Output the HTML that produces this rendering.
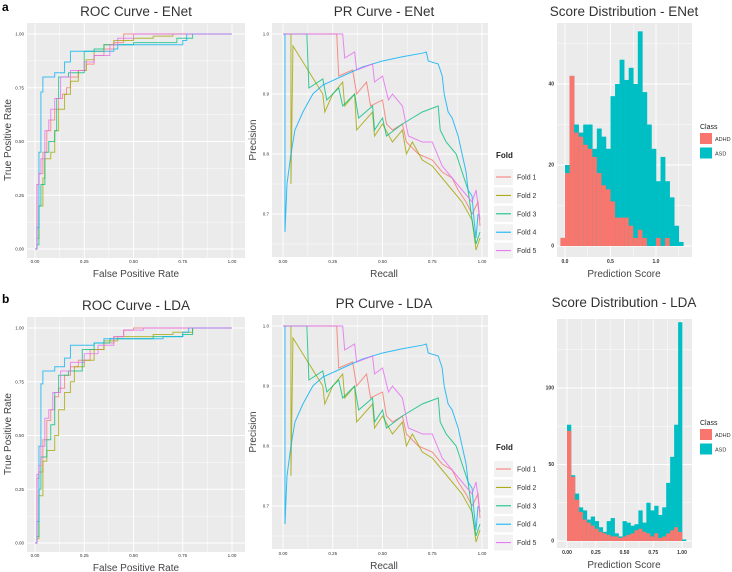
<!DOCTYPE html>
<html><head><meta charset="utf-8"><style>
body{margin:0;background:#fff;}
svg{display:block;font-family:"Liberation Sans",sans-serif;}
</style></head><body>
<svg id="fig" width="732" height="572" viewBox="0 0 732 572"></svg>
<script>
const folds = ["Fold 1","Fold 2","Fold 3","Fold 4","Fold 5"];
const foldColors = ["#F8766D","#A3A500","#00BF7D","#00B0F6","#E76BF3"];
const rocTicks = [0,0.25,0.5,0.75,1];
const rocTickLabels = ["0.00","0.25","0.50","0.75","1.00"];
const prYTicks = [0.7,0.8,0.9,1.0];
const prYTickLabels = ["0.7","0.8","0.9","1.0"];

const rocA1 = [[0,0],[0.01,0.3],[0.02,0.35],[0.04,0.45],[0.06,0.55],[0.08,0.6],[0.1,0.65],[0.12,0.7],[0.14,0.72],[0.16,0.75],[0.18,0.8],[0.22,0.83],[0.26,0.86],[0.3,0.9],[0.35,0.93],[0.4,0.96],[0.45,1],[1,1]];
const rocA2 = [[0,0],[0.01,0.05],[0.02,0.2],[0.04,0.33],[0.05,0.42],[0.08,0.45],[0.1,0.55],[0.12,0.65],[0.15,0.72],[0.18,0.78],[0.22,0.83],[0.26,0.88],[0.3,0.92],[0.35,0.95],[0.4,0.97],[0.5,0.98],[0.6,0.99],[0.7,1],[1,1]];
const rocA3 = [[0,0],[0.01,0.02],[0.02,0.2],[0.03,0.3],[0.05,0.45],[0.07,0.5],[0.1,0.55],[0.11,0.7],[0.12,0.8],[0.17,0.82],[0.24,0.82],[0.25,0.92],[0.3,0.93],[0.35,0.95],[0.5,0.96],[0.7,0.96],[0.72,0.98],[0.8,1],[1,1]];
const rocA4 = [[0,0],[0.01,0.1],[0.02,0.45],[0.03,0.73],[0.04,0.8],[0.1,0.82],[0.15,0.87],[0.18,0.92],[0.4,0.93],[0.42,0.95],[0.65,0.95],[0.75,0.97],[0.77,1],[1,1]];
const rocA5 = [[0,0],[0.01,0.3],[0.02,0.35],[0.03,0.42],[0.05,0.55],[0.07,0.6],[0.08,0.65],[0.1,0.7],[0.13,0.8],[0.18,0.83],[0.25,0.87],[0.3,0.9],[0.38,0.95],[0.42,0.98],[0.5,1],[1,1]];

const prA1 = [[0,1],[0.27,1],[0.28,0.93],[0.35,0.94],[0.37,0.9],[0.42,0.92],[0.44,0.88],[0.5,0.89],[0.52,0.85],[0.55,0.84],[0.6,0.85],[0.62,0.82],[0.68,0.8],[0.75,0.79],[0.8,0.77],[0.85,0.76],[0.88,0.74],[0.92,0.72],[0.95,0.7],[0.98,0.72],[0.99,0.68]];
const prA2 = [[0,1],[0.04,1],[0.04,0.75],[0.05,0.98],[0.2,0.9],[0.21,0.87],[0.25,0.9],[0.3,0.92],[0.31,0.88],[0.36,0.9],[0.37,0.84],[0.45,0.87],[0.46,0.83],[0.5,0.85],[0.55,0.82],[0.6,0.84],[0.62,0.8],[0.65,0.82],[0.7,0.79],[0.75,0.78],[0.8,0.76],[0.85,0.74],[0.9,0.72],[0.95,0.69],[0.97,0.64],[0.99,0.66]];
const prA3 = [[0,1],[0.12,1],[0.13,0.91],[0.2,0.925],[0.22,0.89],[0.28,0.91],[0.3,0.88],[0.36,0.9],[0.38,0.86],[0.45,0.88],[0.46,0.84],[0.5,0.86],[0.52,0.83],[0.6,0.85],[0.7,0.87],[0.78,0.88],[0.79,0.84],[0.82,0.82],[0.87,0.8],[0.9,0.77],[0.93,0.74],[0.95,0.69],[0.97,0.65],[0.99,0.67]];
const prA4 = [[0,1],[0.01,1],[0.01,0.67],[0.02,0.75],[0.04,0.8],[0.06,0.84],[0.1,0.87],[0.15,0.9],[0.2,0.915],[0.3,0.93],[0.4,0.945],[0.5,0.955],[0.6,0.962],[0.7,0.968],[0.72,0.97],[0.73,0.955],[0.78,0.95],[0.8,0.93],[0.81,0.9],[0.83,0.87],[0.85,0.86],[0.88,0.83],[0.9,0.8],[0.92,0.77],[0.93,0.74],[0.95,0.73],[0.96,0.69],[0.97,0.66],[0.98,0.7]];
const prA5 = [[0,1],[0.3,1],[0.31,0.96],[0.36,0.97],[0.37,0.94],[0.45,0.95],[0.46,0.92],[0.5,0.93],[0.53,0.89],[0.55,0.9],[0.6,0.88],[0.63,0.83],[0.7,0.82],[0.75,0.82],[0.8,0.78],[0.85,0.76],[0.9,0.74],[0.95,0.72],[0.97,0.74],[0.99,0.69]];

const rocB1 = [[0,0],[0.01,0.3],[0.02,0.33],[0.04,0.48],[0.06,0.57],[0.08,0.62],[0.1,0.68],[0.12,0.72],[0.15,0.78],[0.18,0.82],[0.22,0.85],[0.28,0.9],[0.35,0.93],[0.4,0.96],[0.45,0.99],[0.5,1],[1,1]];
const rocB2 = [[0,0],[0.01,0.02],[0.02,0.22],[0.04,0.38],[0.06,0.43],[0.1,0.5],[0.12,0.62],[0.15,0.7],[0.18,0.75],[0.2,0.82],[0.25,0.85],[0.3,0.9],[0.35,0.94],[0.42,0.96],[0.6,0.97],[0.7,0.98],[0.8,1],[1,1]];
const rocB3 = [[0,0],[0.01,0.03],[0.02,0.25],[0.03,0.4],[0.06,0.48],[0.08,0.55],[0.1,0.7],[0.12,0.78],[0.17,0.8],[0.22,0.8],[0.24,0.9],[0.3,0.93],[0.38,0.95],[0.6,0.96],[0.75,0.97],[0.8,1],[1,1]];
const rocB4 = [[0,0],[0.01,0.1],[0.02,0.45],[0.03,0.74],[0.04,0.8],[0.1,0.82],[0.15,0.86],[0.18,0.92],[0.3,0.93],[0.35,0.95],[0.65,0.96],[0.75,0.98],[0.78,1],[1,1]];
const rocB5 = [[0,0],[0.01,0.32],[0.02,0.36],[0.03,0.45],[0.05,0.58],[0.07,0.62],[0.09,0.7],[0.13,0.8],[0.18,0.84],[0.25,0.88],[0.32,0.92],[0.4,0.96],[0.45,0.99],[0.55,1],[1,1]];

const prB1 = prA1, prB2 = prA2, prB3 = prA3, prB4 = prA4, prB5 = prA5;

const histEStart = -0.05, histEWidth = 0.05;
const histEAdhd = [2,18,42,28,27,25,24,22,18,15,14,11,7,7,7,5,2,4,2,0,0,2,0,2,0,0,0];
const histETotal = [2,20,42,30,28,30,30,24,29,27,24,37,40,46,41,44,40,53,38,30,24,16,22,16,12,5,1];
const histEYTicks = [0,20,40];
const histEXTicks = [0,0.5,1.0];
const histEXLabels = ["0.0","0.5","1.0"];

const histLStart = 0, histLWidth = 0.0345;
const histLAdhd = [72,42,27,19,14,12,10,8,6,5,4,3,3,2,3,4,5,7,8,6,5,3,5,2,3,5,7,9,6,0];
const histLTotal = [76,43,31,22,20,14,16,13,9,6,13,15,5,3,13,12,10,11,20,12,25,20,23,17,22,38,55,76,143,1];
const histLYTicks = [0,50,100];
const histLXTicks = [0,0.25,0.5,0.75,1];
const histLXLabels = ["0.00","0.25","0.50","0.75","1.00"];

const NS = "http://www.w3.org/2000/svg";
const svg = document.getElementById("fig");
function el(tag, attrs, parent, text){
  const e = document.createElementNS(NS, tag);
  for (const k in attrs) e.setAttribute(k, attrs[k]);
  if (text !== undefined) e.textContent = text;
  (parent||svg).appendChild(e);
  return e;
}

function panelBg(name, x0, y0, x1, y1){
  const r = el("rect",{x:x0,y:y0,width:x1-x0,height:y1-y0,fill:"#EBEBEB"});
  
  
}
function gridV(x, y0, y1, major){
  el("line",{x1:x,x2:x,y1:y0,y2:y1,stroke:"#fff","stroke-width":major?0.9:0.45});
}
function gridH(y, x0, x1, major){
  el("line",{x1:x0,x2:x1,y1:y,y2:y,stroke:"#fff","stroke-width":major?0.9:0.45});
}
function txt(x, y, s, size, opts){
  const a = Object.assign({x:x,y:y,"font-size":size,fill:"#333"}, opts||{});
  return el("text", a, svg, s);
}

function rocPanel(row, yOff, title, curves){
  const X = v => 35 + v*197;
  const Y = v => (249+yOff) - v*215;
  panelBg("roc-plot-area-"+row, 27, 23+yOff, 245, 258+yOff);
  [0.125,0.375,0.625,0.875].forEach(v=>{gridV(X(v),23+yOff,258+yOff,false);gridH(Y(v),27,245,false);});
  rocTicks.forEach((v,i)=>{
    gridV(X(v),23+yOff,258+yOff,true); gridH(Y(v),27,245,true);
    const t1 = txt(X(v), 263+yOff, rocTickLabels[i], 4.5, {"text-anchor":"middle"});
    
    
    const t2 = txt(24, Y(v)+1.5, rocTickLabels[i], 4.5, {"text-anchor":"end"});
    
    
  });
  curves.forEach((pts,fi)=>{
    let d = "M"+X(pts[0][0])+","+Y(pts[0][1]);
    for (let i=1;i<pts.length;i++){ d += " H"+X(pts[i][0])+" V"+Y(pts[i][1]); }
    const p = el("path",{d:d,fill:"none",stroke:foldColors[fi],"stroke-width":1,"stroke-opacity":0.75});
    
    
  });
  const t = txt(136, 16+yOff, title, 13.5, {"text-anchor":"middle"});
  
  
  const xl = txt(136, 277+yOff, "False Positive Rate", 10, {"text-anchor":"middle","fill":"#444"});
  
  
  const yl = txt(0,0,"True Positive Rate",10,{"text-anchor":"middle","fill":"#444",transform:"translate(11,"+(140+yOff)+") rotate(-90)"});
  
  
}

function prPanel(row, yOff, title, curves){
  const X = v => 283 + v*199;
  const Y = v => (34+yOff) + (1-v)*600;
  panelBg("pr-plot-area-"+row, 272, 23+yOff, 488, 257+yOff);
  [0.125,0.375,0.625,0.875].forEach(v=>gridV(X(v),23+yOff,257+yOff,false));
  [0.65,0.75,0.85,0.95].forEach(v=>gridH(Y(v),272,488,false));
  rocTicks.forEach((v,i)=>{
    gridV(X(v),23+yOff,257+yOff,true);
    const t1 = txt(X(v), 263+yOff, rocTickLabels[i], 4.5, {"text-anchor":"middle"});
    
    
  });
  prYTicks.forEach((v,i)=>{
    gridH(Y(v),272,488,true);
    const t2 = txt(269, Y(v)+1.5, prYTickLabels[i], 4.5, {"text-anchor":"end"});
    
    
  });
  curves.forEach((pts,fi)=>{
    const pstr = pts.map(p=>X(p[0])+","+Y(p[1])).join(" ");
    const p = el("polyline",{points:pstr,fill:"none",stroke:foldColors[fi],"stroke-width":1,"stroke-opacity":0.8});
    
    
  });
  const t = txt(384, 16+yOff, title, 13.5, {"text-anchor":"middle"});
  
  
  const xl = txt(384, 277+yOff, "Recall", 10, {"text-anchor":"middle","fill":"#444"});
  
  
  const yl = txt(0,0,"Precision",10,{"text-anchor":"middle","fill":"#444",transform:"translate(256,"+(140+yOff)+") rotate(-90)"});
  
  
  // legend
  const lt = txt(496, 158+yOff, "Fold", 8, {"font-weight":"bold","fill":"#222"});
  
  
  folds.forEach((f,i)=>{
    const cy = 177+yOff + i*18.4;
    el("rect",{x:494,y:cy-8,width:19,height:16,fill:"#F2F2F2"});
    const ln = el("line",{x1:496,x2:511,y1:cy,y2:cy,stroke:foldColors[i],"stroke-width":1});
    
    
    const lb = txt(517, cy+2.5, f, 7, {"fill":"#333"});
    
    
  });
}

function histPanel(row, yOff, title, cfg){
  const X = cfg.X, Y = cfg.Y;
  panelBg("hist-plot-area-"+row, 557, cfg.top+yOff, 692, 257+yOff);
  cfg.xMinor.forEach(v=>gridV(X(v),cfg.top+yOff,257+yOff,false));
  cfg.yMinor.forEach(v=>gridH(Y(v)+yOff,557,692,false));
  cfg.xt.forEach((v,i)=>{
    gridV(X(v),cfg.top+yOff,257+yOff,true);
    const t1 = txt(X(v), 263+yOff, cfg.xl[i], 5, {"text-anchor":"middle","font-weight":"bold"});
    
    
  });
  cfg.yt.forEach(v=>{
    gridH(Y(v)+yOff,557,692,true);
    const t2 = txt(554, Y(v)+yOff+1.5, String(v), 5, {"text-anchor":"end","font-weight":"bold"});
    
    
  });
  cfg.total.forEach((tot,i)=>{
    const x0 = X(cfg.start + i*cfg.w), x1 = X(cfg.start + (i+1)*cfg.w);
    const r = el("rect",{x:x0,y:Y(tot)+yOff,width:x1-x0+0.3,height:Y(0)-Y(tot),fill:"#00BFC4"});
    
    
    const a = cfg.adhd[i];
    const r2 = el("rect",{x:x0,y:Y(a)+yOff,width:x1-x0+0.3,height:Y(0)-Y(a),fill:"#F8766D"});
    
    
  });
  const t = txt(624, 16+yOff, title, 13.5, {"text-anchor":"middle"});
  
  
  const xl = txt(624, 277+yOff, "Prediction Score", 10, {"text-anchor":"middle","fill":"#444"});
  
  
  const ly = cfg.legY + yOff;
  const lt = txt(700, ly, "Class", 7, {"fill":"#222"});
  
  
  [["ADHD","#F8766D"],["ASD","#00BFC4"]].forEach((c,i)=>{
    const r = el("rect",{x:700,y:ly+4+i*14.5,width:12,height:11,fill:c[1]});
    
    
    const lb = txt(715, ly+12+i*14.5, c[0], 5.5, {"fill":"#333"});
    
    
  });
}

// panel letters
const la = txt(2, 11, "a", 12, {"font-weight":"bold","fill":"#000"});


const lb = txt(2, 303, "b", 12, {"font-weight":"bold","fill":"#000"});



rocPanel("a", 0, "ROC Curve - ENet", [rocA1,rocA2,rocA3,rocA4,rocA5]);
prPanel("a", 0, "PR Curve - ENet", [prA1,prA2,prA3,prA4,prA5]);
rocPanel("b", 294, "ROC Curve - LDA", [rocB1,rocB2,rocB3,rocB4,rocB5]);
prPanel("b", 292, "PR Curve - LDA", [prB1,prB2,prB3,prB4,prB5]);

histPanel("a", 0, "Score Distribution - ENet", {
  X: v => 565 + v*91, Y: v => 246 - v*4.05, top: 23,
  start: histEStart, w: histEWidth, adhd: histEAdhd, total: histETotal,
  xt: histEXTicks, xl: histEXLabels, xMinor: [0.25,0.75,1.25],
  yt: histEYTicks, yMinor: [10,30,50], legY: 129
});
histPanel("b", 291, "Score Distribution - LDA", {
  X: v => 567 + v*115, Y: v => 250 - v*1.53, top: 28,
  start: histLStart, w: histLWidth, adhd: histLAdhd, total: histLTotal,
  xt: histLXTicks, xl: histLXLabels, xMinor: [0.125,0.375,0.625,0.875],
  yt: histLYTicks, yMinor: [25,75,125], legY: 134
});
</script>
</body></html>
